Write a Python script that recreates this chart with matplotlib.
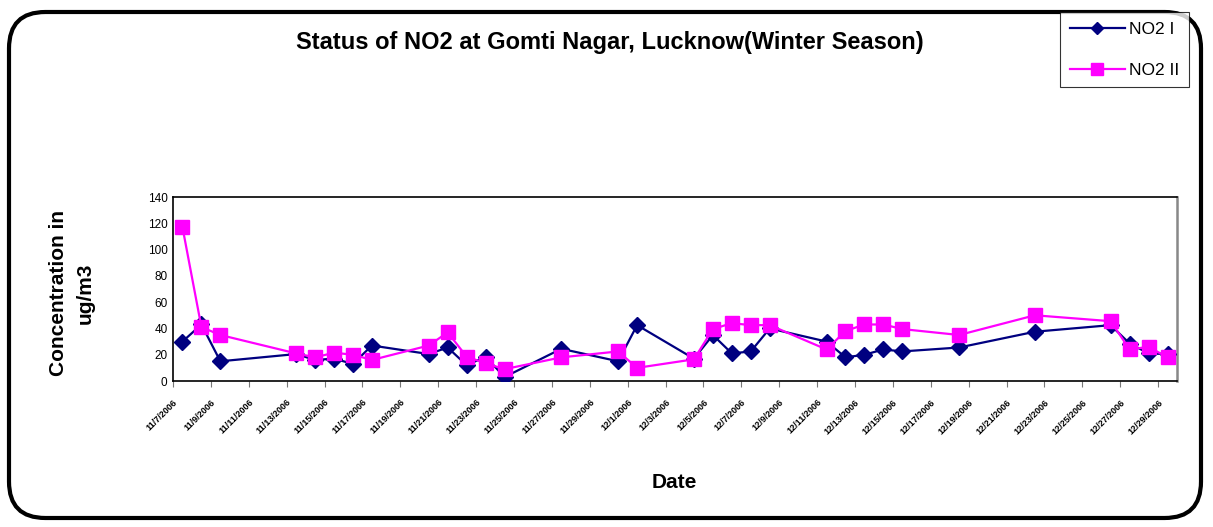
import numpy as np
import pandas as pd
import matplotlib
matplotlib.use("Agg")
import matplotlib.pyplot as plt
from matplotlib.patches import FancyBboxPatch

plt.rcParams['font.family'] = ['Liberation Sans', 'DejaVu Sans']

# sampling dates (2006) and concentrations
dates = ["2006-11-07", "2006-11-08", "2006-11-09", "2006-11-13", "2006-11-14",
         "2006-11-15", "2006-11-16", "2006-11-17", "2006-11-20", "2006-11-21",
         "2006-11-22", "2006-11-23", "2006-11-24", "2006-11-27", "2006-11-30",
         "2006-12-01", "2006-12-04", "2006-12-05", "2006-12-06", "2006-12-07",
         "2006-12-08", "2006-12-11", "2006-12-12", "2006-12-13", "2006-12-14",
         "2006-12-15", "2006-12-18", "2006-12-22", "2006-12-26", "2006-12-27",
         "2006-12-28", "2006-12-29"]
no2_1 = [30, 43, 15, 20.5, 16, 17, 13, 27, 20.5, 25.5, 12, 18.5, 3,
         24.5, 15, 42.5, 17, 35, 21, 22.5, 40, 30, 18, 20, 24,
         22.5, 25.5, 37.5, 42.5, 28.5, 21, 20.5]
no2_2 = [117, 41, 35, 21, 18, 21.5, 20, 16, 27, 37, 18.5, 13.5, 9,
         18, 22.5, 10, 16.5, 39.5, 44, 42.5, 42.5, 24, 38, 43, 43,
         39.5, 35, 50, 45.5, 24, 26, 18]
start, end = "2006-11-07", "2006-12-29"
yticks = [0, 20, 40, 60, 80, 100, 120, 140]

d = pd.to_datetime(dates)
t0 = pd.Timestamp(start)
x = np.array((d - t0).days)
ndays = (pd.Timestamp(end) - t0).days + 1
label_days = pd.date_range(start, end, freq="2D")
labels = [f"{t.month}/{t.day}/{t.year}" for t in label_days]
label_pos = np.array((label_days - t0).days) - 0.5

W, H = 1213, 527
fig = plt.figure(figsize=(W / 100, H / 100), dpi=100)
ax = fig.add_axes([173 / W, 1 - 381 / H, 1004 / W, 184 / H])

ax.plot(x, no2_1, color="#000080", lw=1.6, marker="D", ms=8, label="NO2 I", zorder=3)
ax.plot(x, no2_2, color="#FF00FF", lw=1.6, marker="s", ms=10, label="NO2 II", zorder=4)

ax.set_xlim(-0.5, ndays - 0.5)
ax.set_ylim(0, 140)
ax.set_yticks(yticks)
ax.tick_params(axis="y", labelsize=8.5, length=0, pad=4)
ax.set_xticks(label_pos)
ax.set_xticklabels(labels, rotation=45, ha="right", rotation_mode="anchor",
                   fontsize=6.5, fontweight="bold")
ax.tick_params(axis="x", length=4, color="#777777", pad=8)
for s in ax.spines.values():
    s.set_linewidth(1.2)
    s.set_color("black")
ax.spines["right"].set_color("#888888")
ax.spines["right"].set_linewidth(1.8)

fig.text(610 / W, 1 - 43 / H, "Status of NO2 at Gomti Nagar, Lucknow(Winter Season)",
         ha="center", va="center", fontsize=17, fontweight="bold")
fig.text(72 / W, 1 - 293 / H, "Concentration in\nug/m3", ha="center", va="center",
         rotation=90, fontsize=15, fontweight="bold", linespacing=1.5)
fig.text(674 / W, 1 - 483 / H, "Date", ha="center", va="center",
         fontsize=15, fontweight="bold")

border = FancyBboxPatch((9 / W, 9 / H), 1192 / W, 506 / H,
                        boxstyle="round,pad=0,rounding_size=0.03",
                        transform=fig.transFigure, fill=False, ec="black", lw=3,
                        mutation_aspect=W / H)
fig.patches.append(border)

leg = fig.legend(loc="upper left", bbox_to_anchor=(1060 / W, 1 - 12 / H), frameon=True,
                 fancybox=False, edgecolor="black", fontsize=12.5, handlelength=3.2,
                 markerscale=0.8, borderpad=0.55, labelspacing=1.5,
                 handletextpad=0.25, borderaxespad=0)
leg.get_frame().set_linewidth(0.8)
leg.set_zorder(10)

fig.savefig("out.png", dpi=100)
